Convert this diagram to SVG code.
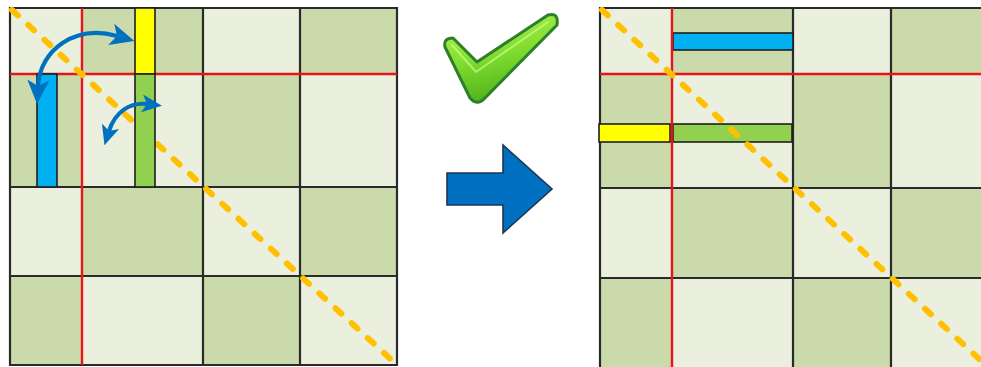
<svg xmlns="http://www.w3.org/2000/svg" width="981" height="367" viewBox="0 0 981 367">
<style>
.l{fill:#EAEFDE}
.d{fill:#CBDAAA}
.grid{fill:none;stroke:#2a2a2a;stroke-width:2.2}
.red{stroke:#E8141A;stroke-width:2.4;fill:none}
.diag{stroke:#FFC000;stroke-width:6;stroke-linecap:round;stroke-dasharray:8 14;fill:none}
.bar{stroke:#1e1e1e;stroke-width:1.6}
.curve{fill:none;stroke:#0070C0;stroke-width:4.2}
</style>
<defs>
<marker id="ah" markerUnits="userSpaceOnUse" markerWidth="24" markerHeight="22" refX="6" refY="11" orient="auto-start-reverse" viewBox="0 0 24 22">
<path d="M0,0 L24,11 L0,22 L6,11 z" fill="#0070C0"/>
</marker>
<marker id="ahs" markerUnits="userSpaceOnUse" markerWidth="20" markerHeight="18" refX="5" refY="9" orient="auto-start-reverse" viewBox="0 0 20 18">
<path d="M0,0 L20,9 L0,18 L5,9 z" fill="#0070C0"/>
</marker>
<linearGradient id="chk" x1="0" y1="0" x2="0.3" y2="1">
<stop offset="0" stop-color="#B4F55A"/>
<stop offset="0.5" stop-color="#86E032"/>
<stop offset="1" stop-color="#4FB41C"/>
</linearGradient>
<filter id="soft" x="-10%" y="-10%" width="120%" height="120%"><feGaussianBlur stdDeviation="0.7"/></filter>
</defs>

<g id="grid-before">
<rect class="l" x="10" y="8" width="72" height="66"/>
<rect class="d" x="82" y="8" width="121" height="66"/>
<rect class="l" x="203" y="8" width="97" height="66"/>
<rect class="d" x="300" y="8" width="97" height="66"/>
<rect class="d" x="10" y="74" width="72" height="113"/>
<rect class="l" x="82" y="74" width="121" height="113"/>
<rect class="d" x="203" y="74" width="97" height="113"/>
<rect class="l" x="300" y="74" width="97" height="113"/>
<rect class="l" x="10" y="187" width="72" height="89"/>
<rect class="d" x="82" y="187" width="121" height="89"/>
<rect class="l" x="203" y="187" width="97" height="89"/>
<rect class="d" x="300" y="187" width="97" height="89"/>
<rect class="d" x="10" y="276" width="72" height="89"/>
<rect class="l" x="82" y="276" width="121" height="89"/>
<rect class="d" x="203" y="276" width="97" height="89"/>
<rect class="l" x="300" y="276" width="97" height="89"/>
<path class="grid" d="M10,8H397V365H10Z M203,8V365 M300,8V365 M10,187H397 M10,276H397"/>
<path class="red" d="M82,8V365 M10,74H397"/>
<line class="diag" x1="12" y1="10" x2="397" y2="365"/>
<rect class="bar" x="135" y="8" width="20" height="66" fill="#FFFF00"/>
<rect class="bar" x="135" y="74" width="20" height="113" fill="#92D050"/>
<rect class="bar" x="37" y="74" width="20" height="113" fill="#00B0F0"/>
</g>

<g id="grid-after">
<rect class="l" x="600" y="8" width="72" height="66"/>
<rect class="d" x="672" y="8" width="121" height="66"/>
<rect class="l" x="793" y="8" width="98" height="66"/>
<rect class="d" x="891" y="8" width="98" height="66"/>
<rect class="d" x="600" y="74" width="72" height="114"/>
<rect class="l" x="672" y="74" width="121" height="114"/>
<rect class="d" x="793" y="74" width="98" height="114"/>
<rect class="l" x="891" y="74" width="98" height="114"/>
<rect class="l" x="600" y="188" width="72" height="90"/>
<rect class="d" x="672" y="188" width="121" height="90"/>
<rect class="l" x="793" y="188" width="98" height="90"/>
<rect class="d" x="891" y="188" width="98" height="90"/>
<rect class="d" x="600" y="278" width="72" height="92"/>
<rect class="l" x="672" y="278" width="121" height="92"/>
<rect class="d" x="793" y="278" width="98" height="92"/>
<rect class="l" x="891" y="278" width="98" height="92"/>
<path class="grid" d="M990,8H600V370 M793,8V370 M891,8V370 M600,188H990 M600,278H990"/>
<rect class="bar" x="673" y="33" width="120" height="17" fill="#00B0F0"/>
<rect class="bar" x="599" y="124" width="71" height="18" fill="#FFFF00"/>
<rect class="bar" x="673" y="124" width="119" height="18" fill="#92D050"/>
<path class="red" d="M672,8V370 M600,74H990"/>
<line class="diag" x1="602" y1="10" x2="989" y2="368"/>
</g>

<g id="check">
<path d="M445,47 Q443,38 453,38 L477,62 L548,15 Q559,12 557,25 L484,99 Q477,106 470,98 Z" fill="url(#chk)" stroke="#2F7F2A" stroke-width="3" stroke-linejoin="round" filter="url(#soft)"/>
<path d="M452,45 L476,72 L548,22" fill="none" stroke="#D6FF9A" stroke-width="2" stroke-linecap="round" opacity="0.6" filter="url(#soft)"/>
</g>

<g id="transform-arrow">
<polygon points="447,173 503,173 503,145 552,189 503,233 503,205 447,205" fill="#0070C0" stroke="#1c3550" stroke-width="1.6" stroke-linejoin="miter"/>
</g>

<g id="connectors">
<path class="curve" d="M38,86 C40,50 75,24 117,36" marker-start="url(#ah)" marker-end="url(#ah)"/>
<path class="curve" d="M109,131 C115,112 130,102 147,104" marker-start="url(#ahs)" marker-end="url(#ahs)"/>
</g>
</svg>
